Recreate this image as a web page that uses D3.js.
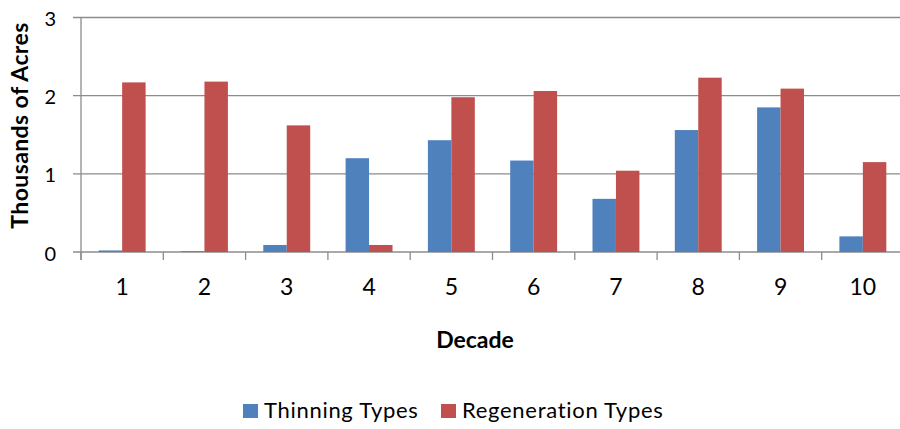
<!DOCTYPE html>
<html><head><meta charset="utf-8">
<script src="https://cdn.jsdelivr.net/npm/d3@7"></script>
<style>body{margin:0;background:#fff}svg{display:block}text{font-family:Lato,"Open Sans",sans-serif;fill:#000}</style>
</head><body><svg id="c" width="900" height="429"></svg>
<script>
const decades = ["1","2","3","4","5","6","7","8","9","10"];
const thinning = [0.02,0.01,0.09,1.20,1.43,1.17,0.68,1.56,1.85,0.20];
const regeneration = [2.17,2.18,1.62,0.09,1.98,2.06,1.04,2.23,2.09,1.15];
const seriesNames = ["Thinning Types","Regeneration Types"];
const colors = ["#4F81BD","#C0504D"];
const yTicks = [0,1,2,3];

const svg = d3.select("#c");
const L=81, R=904, T=17.5, B=252;
const x = d3.scaleBand().domain(decades).range([L,R]).paddingInner(0.43).paddingOuter(0.215);
const x1 = d3.scaleBand().domain([0,1]).range([0,x.bandwidth()]);
const y = d3.scaleLinear().domain([0,3]).range([B,T]);

svg.append("g").selectAll("line").data(yTicks).join("line")
  .attr("x1",L-8).attr("x2",R).attr("y1",d=>y(d)).attr("y2",d=>y(d))
  .attr("stroke","#8c8c8c").attr("stroke-width",1.3);
svg.append("line").attr("x1",L).attr("x2",L).attr("y1",T).attr("y2",B+8).attr("stroke","#8c8c8c").attr("stroke-width",1.3);
const step = (R-L)/decades.length;
svg.append("g").selectAll("line").data(d3.range(decades.length+1)).join("line")
  .attr("x1",i=>L+i*step).attr("x2",i=>L+i*step).attr("y1",B).attr("y2",B+8)
  .attr("stroke","#8c8c8c").attr("stroke-width",1.3);

const data = decades.map((d,i)=>({d, v:[thinning[i],regeneration[i]]}));
const g = svg.append("g").selectAll("g").data(data).join("g").attr("transform",d=>`translate(${x(d.d)},0)`);
g.selectAll("rect").data(d=>d.v.map((v,k)=>({v,k}))).join("rect")
  .attr("x",d=>x1(d.k)).attr("width",x1.bandwidth())
  .attr("y",d=>y(d.v)).attr("height",d=>B-y(d.v))
  .attr("fill",d=>colors[d.k]);

svg.append("g").selectAll("text").data(yTicks).join("text")
  .attr("x",56).attr("y",d=>y(d)+8.5).attr("text-anchor","end").attr("font-size",20).text(d=>d);
svg.append("g").selectAll("text").data(decades).join("text")
  .attr("x",d=>x(d)+x.bandwidth()/2).attr("y",295).attr("text-anchor","middle").attr("font-size",23).text(d=>d);

svg.append("text").attr("transform","translate(28,125.5) rotate(-90)").attr("text-anchor","middle")
  .attr("font-size",23).attr("font-weight","bold").attr("letter-spacing",0.4).text("Thousands of Acres");
svg.append("text").attr("x",475).attr("y",348).attr("text-anchor","middle")
  .attr("font-size",23).attr("font-weight","bold").text("Decade");

const lg = svg.append("g");
const lx=[243,441];
seriesNames.forEach((s,i)=>{
  lg.append("rect").attr("x",lx[i]).attr("y",404).attr("width",15).attr("height",14).attr("fill",colors[i]);
  lg.append("text").attr("x",lx[i]+21).attr("y",418).attr("font-size",22).attr("letter-spacing",0.7).text(s);
});
</script></body></html>
